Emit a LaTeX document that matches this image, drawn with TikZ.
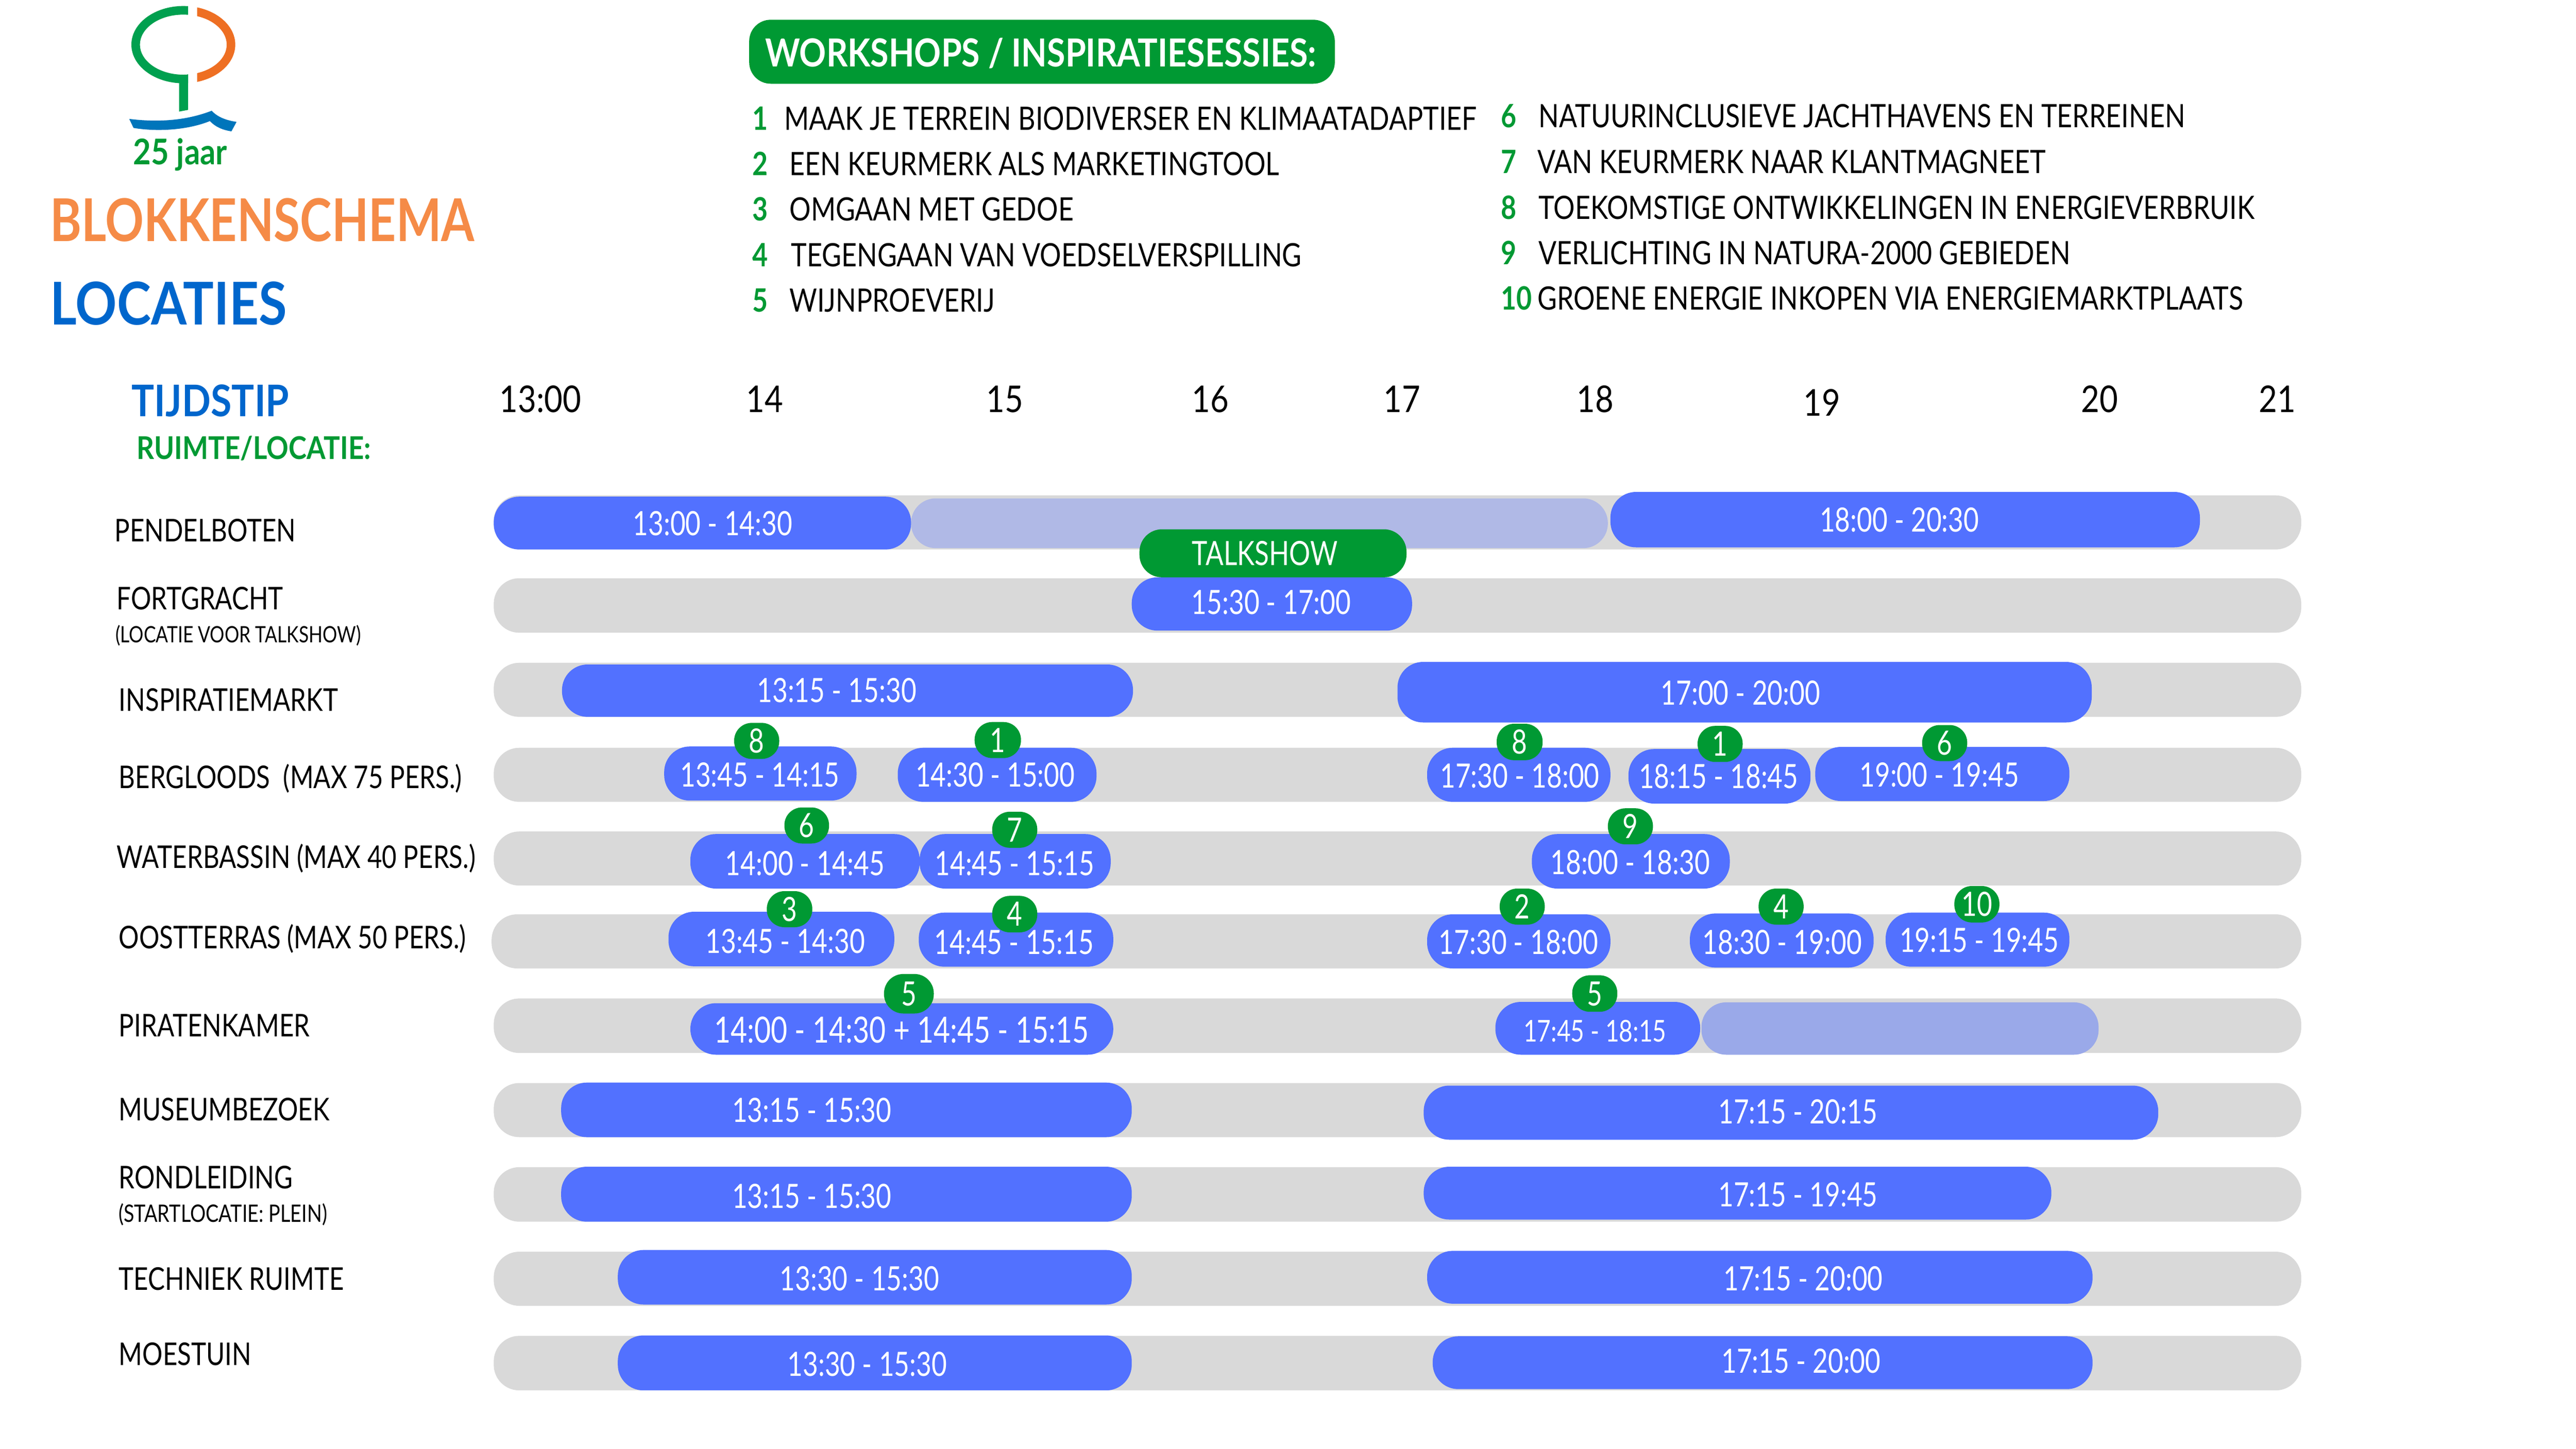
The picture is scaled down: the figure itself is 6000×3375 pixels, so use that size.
\documentclass[tikz,border=0pt]{standalone}
\usepackage{fontspec}
\usetikzlibrary{fit}
\newfontfamily\smalfont[FakeStretch=.79]{Lato}
\newfontfamily\itemfont[FakeStretch=.83]{Lato}
\newfontfamily\uurfont[FakeStretch=.86]{Lato}
\newfontfamily\kopfont[FakeStretch=.81]{Lato}
\newfontfamily\locfont[FakeStretch=.87]{Lato}
\newfontfamily\rijfont[FakeStretch=.81]{Lato}
\definecolor{rijgrijs}{HTML}{D9D9D9}
\definecolor{tijdblauw}{HTML}{5271FF}
\definecolor{vaagblauw}{HTML}{B0B9E6}
\definecolor{vaagblauwb}{HTML}{9AA9E9}
\definecolor{wsgroen}{HTML}{009933}
\definecolor{kopblauw}{HTML}{0066CC}
\definecolor{koporanje}{HTML}{F58B47}
\definecolor{logogroen}{HTML}{00A04F}
\definecolor{logooranje}{HTML}{EE6F23}
\definecolor{logoblauw}{HTML}{0075BB}
\tikzset{
  rij/.style={rounded corners=11.9pt,inner sep=0pt,fill=rijgrijs},
  balk/.style={rounded corners=11.9pt,inner sep=0pt,fill=tijdblauw},
  vaag/.style={rounded corners=11.5pt,inner sep=0pt,fill=vaagblauw},
  bol/.style={rounded corners=8.2pt,inner sep=0pt,fill=wsgroen},
  tijd/.style={inner sep=0pt,text=white,text height=11.2pt,text depth=0pt,font=\smalfont\fontsize{15.6}{18}\selectfont},
  nummer/.style={tijd},
  uur/.style={inner sep=0pt,text=black,text height=12.4pt,text depth=0pt,font=\uurfont\fontsize{17.2}{20}\selectfont},
  rijnaam/.style={anchor=west,inner sep=0pt,text height=10.6pt,text depth=0pt,font=\rijfont\fontsize{14.6}{17}\selectfont},
  rijklein/.style={anchor=west,inner sep=0pt,text height=7.6pt,text depth=0pt,font=\rijfont\fontsize{10.5}{12}\selectfont},
  item/.style={anchor=west,inner sep=0pt,text height=10.8pt,text depth=0pt,font=\itemfont\fontsize{15}{18}\selectfont},
  itemnr/.style={anchor=west,inner sep=0pt,text=wsgroen,text height=10.8pt,text depth=0pt,font=\itemfont\bfseries\fontsize{15}{18}\selectfont},
}

\begin{document}
\begin{tikzpicture}[x=.2pt,y=-.2pt]
  \useasboundingbox (0,0) rectangle (6000,3375);

  % Logo
  \begin{scope}
    \clip (250,0) rectangle (438,230);
    \fill[logogroen,even odd rule] (427,104) ellipse [x radius=121,y radius=90] (427,104) ellipse [x radius=101,y radius=70];
  \end{scope}
  \begin{scope}
    \clip (459,0) rectangle (600,230);
    \fill[logooranje,even odd rule] (427,104) ellipse [x radius=121,y radius=90] (427,104) ellipse [x radius=101,y radius=70];
  \end{scope}
  \fill[logogroen] (417,180) -- (438,173) -- (438,256) -- (417,260) -- cycle;
  \fill[logoblauw] (301,277) .. controls (365,285) and (431,282) .. (493,258) .. controls (506,272) and (525,280) .. (551,284)
    -- (539,306) .. controls (520,303) and (503,297) .. (489,282) .. controls (440,302) and (370,308) .. (311,298) -- cycle;
  \node[inner sep=0pt,anchor=base,text=wsgroen,font=\locfont\bfseries\fontsize{16.5}{19}\selectfont] (jaar) at (420,383) {25 jaar};

  % Titels
  \node[anchor=west,inner sep=0pt,text=koporanje,text height=19.8pt,text depth=0pt,font=\kopfont\bfseries\fontsize{27.5}{32}\selectfont] (titel) at (116,513) {BLOKKENSCHEMA};
  \node[anchor=west,inner sep=0pt,text=kopblauw,text height=19.8pt,text depth=0pt,font=\locfont\bfseries\fontsize{27.5}{32}\selectfont] (locaties) at (116,707) {LOCATIES};
  \node[anchor=west,inner sep=0pt,text=kopblauw,text height=14.6pt,text depth=0pt,font=\locfont\bfseries\fontsize{20.3}{24}\selectfont] (tijdstip) at (306,934) {TIJDSTIP};
  \node[anchor=west,inner sep=0pt,text=wsgroen,text height=10.8pt,text depth=0pt,font=\locfont\bfseries\fontsize{14.6}{18}\selectfont] (ruimte) at (318,1043) {RUIMTE/LOCATIE:};

  % Workshops
  \node[fit={(1745,46) (3109,195)},rounded corners=10pt,inner sep=0pt,fill=wsgroen] (wskop) {};
  \node[inner sep=0pt,text=white,text height=13pt,text depth=0pt,font=\uurfont\bfseries\fontsize{18}{21}\selectfont] (wstekst) at (2424,123) {WORKSHOPS / INSPIRATIESESSIES:};
  \node[itemnr] (nr1) at (1752,276) {1};
  \node[item] (ws1) at (1826,276) {MAAK JE TERREIN BIODIVERSER EN KLIMAATADAPTIEF};
  \node[itemnr] (nr2) at (1752,381) {2};
  \node[item] (ws2) at (1838,381) {EEN KEURMERK ALS MARKETINGTOOL};
  \node[itemnr] (nr3) at (1752,487) {3};
  \node[item] (ws3) at (1838,487) {OMGAAN MET GEDOE};
  \node[itemnr] (nr4) at (1752,594) {4};
  \node[item] (ws4) at (1842,594) {TEGENGAAN VAN VOEDSELVERSPILLING};
  \node[itemnr] (nr5) at (1752,700) {5};
  \node[item] (ws5) at (1838,700) {WIJNPROEVERIJ};
  \node[itemnr] (nr6) at (3495,270) {6};
  \node[item] (ws6) at (3583,270) {NATUURINCLUSIEVE JACHTHAVENS EN TERREINEN};
  \node[itemnr] (nr7) at (3495,377) {7};
  \node[item] (ws7) at (3580,377) {VAN KEURMERK NAAR KLANTMAGNEET};
  \node[itemnr] (nr8) at (3495,483) {8};
  \node[item] (ws8) at (3583,483) {TOEKOMSTIGE ONTWIKKELINGEN IN ENERGIEVERBRUIK};
  \node[itemnr] (nr9) at (3495,589) {9};
  \node[item] (ws9) at (3583,589) {VERLICHTING IN NATURA-2000 GEBIEDEN};
  \node[itemnr] (nr10) at (3495,695) {10};
  \node[item] (ws10) at (3580,695) {GROENE ENERGIE INKOPEN VIA ENERGIEMARKTPLAATS};

  % Uren
  \node[uur] (u13) at (1259,929) {13:00};
  \node[uur] (u14) at (1781,929) {14};
  \node[uur] (u15) at (2340,929) {15};
  \node[uur] (u16) at (2819,929) {16};
  \node[uur] (u17) at (3266,929) {17};
  \node[uur] (u18) at (3716,929) {18};
  \node[uur] (u19) at (4244,938) {19};
  \node[uur] (u20) at (4890,929) {20};
  \node[uur] (u21) at (5304,929) {21};

  % Rijnamen
  \node[rijnaam] (pendel) at (266,1235) {PENDELBOTEN};
  \node[rijnaam] (fort) at (271,1394) {FORTGRACHT};
  \node[rijklein] (fortb) at (268,1478) {(LOCATIE VOOR TALKSHOW)};
  \node[rijnaam] (markt) at (276,1630) {INSPIRATIEMARKT};
  \node[rijnaam] (berg) at (276,1810) {BERGLOODS\ \ (MAX 75 PERS.)};
  \node[rijnaam] (water) at (271,1996) {WATERBASSIN (MAX 40 PERS.)};
  \node[rijnaam] (oost) at (276,2183) {OOSTTERRAS (MAX 50 PERS.)};
  \node[rijnaam] (piraat) at (276,2389) {PIRATENKAMER};
  \node[rijnaam] (museum) at (276,2584) {MUSEUMBEZOEK};
  \node[rijnaam] (rond) at (276,2743) {RONDLEIDING};
  \node[rijklein,font=\rijfont\fontsize{11.2}{13}\selectfont] (rondb) at (275,2828) {(STARTLOCATIE: PLEIN)};
  \node[rijnaam] (tech) at (276,2979) {TECHNIEK RUIMTE};
  \node[rijnaam] (moes) at (276,3154) {MOESTUIN};

  % Grijze rijen
  \node[rij,fit={(1150,1154) (5360,1280)}] (r1) {};
  \node[rij,fit={(1150,1347) (5360,1474)}] (r2) {};
  \node[rij,fit={(1150,1544) (5360,1670)}] (r3) {};
  \node[rij,fit={(1150,1742) (5360,1868)}] (r4) {};
  \node[rij,fit={(1150,1937) (5360,2063)}] (r5) {};
  \node[rij,fit={(1145,2130) (5360,2256)}] (r6) {};
  \node[rij,fit={(1150,2326) (5360,2453)}] (r7) {};
  \node[rij,fit={(1150,2523) (5360,2649)}] (r8) {};
  \node[rij,fit={(1150,2719) (5360,2846)}] (r9) {};
  \node[rij,fit={(1150,2916) (5360,3042)}] (r10) {};
  \node[rij,fit={(1150,3112) (5360,3239)}] (r11) {};

  % Balken
  \node[vaag,fit={(2122,1161) (3745,1277)}] (v1) {};
  \node[vaag,fill=vaagblauwb,fit={(3963,2335) (4888,2457)}] (v2) {};
  \node[balk,fit={(1150,1157) (2122,1280)}] (b1a) {};
  \node[balk,fit={(3751,1146) (5124,1275)}] (b1b) {};
  \node[bol,rounded corners=10.5pt,fit={(2654,1233) (3276,1345)}] (talk) {};
  \node[balk,fit={(2636,1345) (3289,1469)}] (b2a) {};
  \node[balk,fit={(1309,1548) (2639,1670)}] (b3a) {};
  \node[balk,fit={(3255,1542) (4872,1683)}] (b3b) {};
  \node[balk,fit={(1547,1739) (1995,1865)}] (b4a) {};
  \node[balk,fit={(2091,1742) (2554,1868)}] (b4b) {};
  \node[balk,fit={(3324,1742) (3751,1868)}] (b4c) {};
  \node[balk,fit={(3793,1745) (4217,1872)}] (b4d) {};
  \node[balk,fit={(4228,1740) (4820,1866)}] (b4e) {};
  \node[balk,fit={(1608,1943) (2142,2070)}] (b5a) {};
  \node[balk,fit={(2142,1943) (2587,2070)}] (b5b) {};
  \node[balk,fit={(3568,1943) (4029,2070)}] (b5c) {};
  \node[balk,fit={(1557,2124) (2083,2251)}] (b6a) {};
  \node[balk,fit={(2140,2126) (2593,2252)}] (b6b) {};
  \node[balk,fit={(3324,2130) (3751,2256)}] (b6c) {};
  \node[balk,fit={(3936,2128) (4364,2254)}] (b6d) {};
  \node[balk,fit={(4392,2126) (4820,2252)}] (b6e) {};
  \node[balk,fit={(1608,2337) (2593,2457)}] (b7a) {};
  \node[balk,fit={(3483,2334) (3960,2457)}] (b7b) {};
  \node[balk,fit={(1307,2522) (2636,2649)}] (b8a) {};
  \node[balk,fit={(3316,2529) (5027,2655)}] (b8b) {};
  \node[balk,fit={(1307,2718) (2636,2846)}] (b9a) {};
  \node[balk,fit={(3316,2718) (4778,2841)}] (b9b) {};
  \node[balk,fit={(1439,2912) (2636,3039)}] (b10a) {};
  \node[balk,fit={(3324,2914) (4874,3037)}] (b10b) {};
  \node[balk,fit={(1439,3111) (2636,3239)}] (b11a) {};
  \node[balk,fit={(3337,3113) (4874,3236)}] (b11b) {};

  % Bollen
  \node[bol,fit={(1710,1684) (1815,1768)}] (n4a) {};
  \node[bol,fit={(2270,1682) (2378,1766)}] (n4b) {};
  \node[bol,fit={(3486,1686) (3593,1771)}] (n4c) {};
  \node[bol,fit={(3954,1691) (4059,1775)}] (n4d) {};
  \node[bol,fit={(4477,1689) (4582,1773)}] (n4e) {};
  \node[bol,fit={(1827,1881) (1931,1965)}] (n5a) {};
  \node[bol,fit={(2311,1891) (2416,1975)}] (n5b) {};
  \node[bol,fit={(3745,1883) (3850,1967)}] (n5c) {};
  \node[bol,fit={(1786,2076) (1892,2160)}] (n6a) {};
  \node[bol,fit={(2311,2087) (2416,2172)}] (n6b) {};
  \node[bol,fit={(3493,2070) (3598,2154)}] (n6c) {};
  \node[bol,fit={(4096,2070) (4201,2154)}] (n6d) {};
  \node[bol,fit={(4552,2064) (4657,2149)}] (n6e) {};
  \node[bol,rounded corners=9pt,fit={(2059,2269) (2175,2361)}] (n7a) {};
  \node[bol,fit={(3662,2272) (3767,2357)}] (n7b) {};

  % Teksten
  \node[tijd] (t1a) at (1660,1219) {13:00 - 14:30};
  \node[tijd] (t1b) at (4424,1211) {18:00 - 20:30};
  \node[tijd] (ttalk) at (2946,1289) {TALKSHOW};
  \node[tijd] (t2a) at (2961,1403) {15:30 - 17:00};
  \node[tijd] (t3a) at (1949,1608) {13:15 - 15:30};
  \node[tijd] (t3b) at (4054,1614) {17:00 - 20:00};
  \node[tijd] (t4a) at (1770,1805) {13:45 - 14:15};
  \node[tijd] (t4b) at (2318,1805) {14:30 - 15:00};
  \node[tijd] (t4c) at (3540,1807) {17:30 - 18:00};
  \node[tijd] (t4d) at (4003,1809) {18:15 - 18:45};
  \node[tijd] (t4e) at (4517,1805) {19:00 - 19:45};
  \node[tijd] (t5a) at (1875,2011) {14:00 - 14:45};
  \node[tijd] (t5b) at (2363,2011) {14:45 - 15:15};
  \node[tijd] (t5c) at (3797,2009) {18:00 - 18:30};
  \node[tijd] (t6a) at (1829,2192) {13:45 - 14:30};
  \node[tijd] (t6b) at (2362,2195) {14:45 - 15:15};
  \node[tijd] (t6c) at (3537,2195) {17:30 - 18:00};
  \node[tijd] (t6d) at (4151,2195) {18:30 - 19:00};
  \node[tijd] (t6e) at (4610,2190) {19:15 - 19:45};
  \node[tijd,text height=12pt,font=\smalfont\fontsize{16.8}{20}\selectfont] (t7a) at (2100,2399) {14:00 - 14:30 + 14:45 - 15:15};
  \node[tijd,text height=10pt,font=\smalfont\fontsize{14}{17}\selectfont] (t7b) at (3715,2402) {17:45 - 18:15};
  \node[tijd] (t8a) at (1891,2586) {13:15 - 15:30};
  \node[tijd] (t8b) at (4188,2590) {17:15 - 20:15};
  \node[tijd] (t9a) at (1891,2787) {13:15 - 15:30};
  \node[tijd] (t9b) at (4188,2783) {17:15 - 19:45};
  \node[tijd] (t10a) at (2002,2979) {13:30 - 15:30};
  \node[tijd] (t10b) at (4200,2979) {17:15 - 20:00};
  \node[tijd] (t11a) at (2020,3178) {13:30 - 15:30};
  \node[tijd] (t11b) at (4195,3170) {17:15 - 20:00};

  % Nummers
  \node[nummer] (m4a) at (n4a) {8};
  \node[nummer] (m4b) at (n4b) {1};
  \node[nummer] (m4c) at (n4c) {8};
  \node[nummer] (m4d) at (n4d) {1};
  \node[nummer] (m4e) at (n4e) {6};
  \node[nummer] (m5a) at (n5a) {6};
  \node[nummer] (m5b) at (n5b) {7};
  \node[nummer] (m5c) at (n5c) {9};
  \node[nummer] (m6a) at (n6a) {3};
  \node[nummer] (m6b) at (n6b) {4};
  \node[nummer] (m6c) at (n6c) {2};
  \node[nummer] (m6d) at (n6d) {4};
  \node[nummer] (m6e) at (n6e) {10};
  \node[nummer] (m7a) at (n7a) {5};
  \node[nummer] (m7b) at (n7b) {5};
\end{tikzpicture}
\end{document}
